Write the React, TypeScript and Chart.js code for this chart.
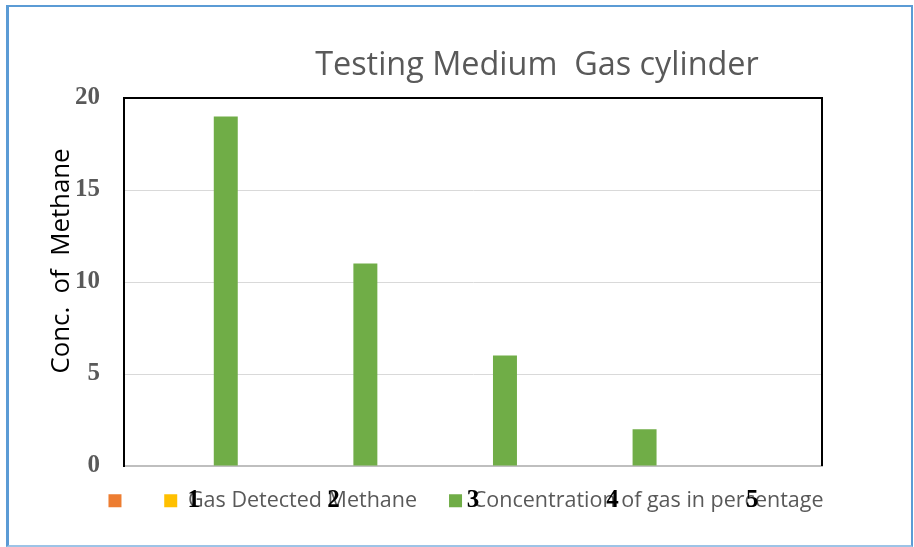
import React, { useEffect, useRef } from "react";
import { Chart, registerables } from "chart.js";

Chart.register(...registerables);

const categories = ["1", "2", "3", "4", "5"];
const seriesNames = ["", "Gas Detected Methane", "Concentration of gas in percentage"];
const seriesOrange: (number | null)[] = [null, null, null, null, null];
const seriesYellow: (number | null)[] = [null, null, null, null, null];
const seriesGreen: number[] = [19, 11, 6, 2, 0];
const yTicks = [0, 5, 10, 15, 20];
const chartTitle = "Testing Medium  Gas cylinder";
const yAxisTitle = "Conc.  of  Methane";

const SANS = "'Open Sans', Lato, sans-serif";
const SERIF = "'Liberation Serif', 'Times New Roman', serif";

const framePlugin = {
  id: "frame",
  afterDraw(chart: any) {
    const { ctx, chartArea } = chart;
    const { left, right, top, bottom } = chartArea;
    ctx.save();
    ctx.strokeStyle = "#000000";
    ctx.lineWidth = 2;
    ctx.beginPath();
    ctx.moveTo(left - 1, top);
    ctx.lineTo(right, top);
    ctx.lineTo(right, bottom);
    ctx.stroke();

    // chart title
    ctx.fillStyle = "#595959";
    ctx.font = `32.4px ${SANS}`;
    ctx.textAlign = "center";
    ctx.textBaseline = "middle";
    ctx.fillText(chartTitle, chart.width * 0.5875, 66);

    // y axis title
    ctx.font = `25.8px ${SANS}`;
    ctx.translate(62, 261);
    ctx.rotate(-Math.PI / 2);
    ctx.fillStyle = "#000000";
    ctx.fillText(yAxisTitle, 0, 0);
    ctx.restore();
  },
};

export default function App() {
  const ref = useRef<HTMLCanvasElement | null>(null);

  useEffect(() => {
    if (!ref.current) return;
    const chart = new Chart(ref.current, {
      type: "bar",
      data: {
        labels: categories,
        datasets: [
          { label: seriesNames[0], data: seriesOrange, backgroundColor: "#ED7D31" },
          { label: seriesNames[1], data: seriesYellow, backgroundColor: "#FFC000" },
          { label: seriesNames[2], data: seriesGreen, backgroundColor: "#70AD47" },
        ],
      },
      options: {
        responsive: false,
        animation: false,
        events: [],
        layout: { padding: { left: 76, right: 58, top: 98, bottom: 25.5 } },
        datasets: {
          bar: { categoryPercentage: 0.687, barPercentage: 0.75 },
        },
        plugins: {
          title: { display: false },
          tooltip: { enabled: false },
          legend: {
            display: true,
            position: "bottom",
            title: {
              display: true,
              text: "",
              font: { size: 1 },
              padding: { top: -9.2, bottom: 0 },
            },
            labels: {
              boxWidth: 13,
              boxHeight: 13,
              padding: 32,
              color: "#595959",
              font: { family: SANS, size: 21.5 },
            },
          },
        },
        scales: {
          x: {
            grid: { display: false, drawTicks: false },
            border: { color: "#BFBFBF", width: 2 },
            ticks: {
              mirror: true,
              padding: -50,
              color: "#000000",
              font: { family: SERIF, size: 25, weight: "bold" },
            },
            afterFit(scale: any) {
              scale.height = 0;
            },
          },
          y: {
            min: 0,
            max: 20,
            afterBuildTicks(scale: any) {
              scale.ticks = yTicks.map((v) => ({ value: v }));
            },
            grid: { color: "#D9D9D9", lineWidth: 1, drawTicks: false },
            border: { color: "#000000", width: 2 },
            ticks: {
              padding: 24,
              color: "#595959",
              font: { family: SERIF, size: 25, weight: "bold" },
            },
            afterFit(scale: any) {
              scale.width = 48;
            },
          },
          yRight: {
            position: "right",
            display: true,
            grid: { display: false, drawTicks: false },
            border: { display: false },
            ticks: { display: false },
            afterFit(scale: any) {
              scale.width = 34;
            },
          },
        },
      },
      plugins: [framePlugin],
    });
    return () => chart.destroy();
  }, []);

  return (
    <div style={{ position: "fixed", left: 0, top: 0, width: 914, height: 547, background: "#ffffff" }}>
      <canvas ref={ref} width={914} height={547} style={{ display: "block" }} />
      <div
        style={{
          position: "absolute",
          left: 6,
          top: 5,
          width: 907,
          height: 542,
          boxSizing: "border-box",
          borderLeft: "3px solid #5B9BD5",
          borderTop: "2px solid #5B9BD5",
          borderRight: "2px solid #5B9BD5",
          borderBottom: "2px solid #9DC3E6",
          pointerEvents: "none",
        }}
      />
    </div>
  );
}
